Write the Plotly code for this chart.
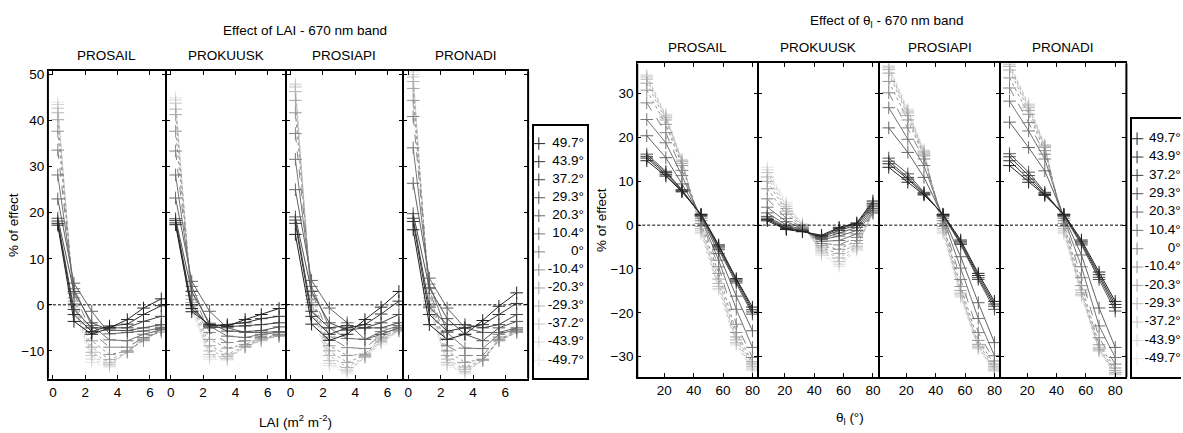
import plotly.graph_objects as go

# ---------------- data ----------------
angles = ["49.7°", "43.9°", "37.2°", "29.3°", "20.3°", "10.4°", "0°",
          "-10.4°", "-20.3°", "-29.3°", "-37.2°", "-43.9°", "-49.7°"]
models = ["PROSAIL", "PROKUUSK", "PROSIAPI", "PRONADI"]

lai = [0.3, 1.3, 2.4, 3.5, 4.6, 5.6, 6.7]
theta_l = [8, 21, 32, 45, 57, 69, 80]

# Effect of LAI (rows follow `angles`)
lai_prosail = [
    [17.3, -3.6, -6.4, -5.0, -3.2, -0.7, 1.3],
    [17.7, -2.1, -5.8, -4.6, -4.2, -2.1, -0.2],
    [18.2, -1.0, -5.0, -5.0, -5.0, -3.6, -2.5],
    [18.8, 2.9, -3.9, -5.5, -5.6, -5.0, -4.3],
    [23.0, 4.7, -1.4, -6.3, -6.0, -5.7, -5.0],
    [28.2, 3.5, -4.5, -7.6, -7.8, -6.4, -5.4],
    [33.6, 2.5, -6.0, -9.2, -9.2, -7.1, -5.9],
    [37.7, 1.5, -7.8, -10.8, -10.0, -7.8, -5.4],
    [40.2, 0.8, -9.2, -11.9, -10.3, -7.6, -5.2],
    [41.7, 0.3, -10.3, -12.6, -10.3, -7.5, -5.0],
    [42.7, 0.0, -11.0, -13.0, -10.2, -7.3, -4.8],
    [43.5, -0.5, -11.8, -13.3, -10.1, -7.2, -4.7],
    [44.0, -1.0, -12.5, -13.5, -10.0, -7.0, -4.6],
]
lai_prokuusk = [
    [17.4, -1.5, -4.3, -4.6, -3.2, -2.1, -0.8],
    [17.8, -0.8, -4.6, -4.3, -3.9, -3.0, -2.5],
    [18.3, 0.0, -5.0, -4.8, -4.6, -4.3, -3.9],
    [18.7, 2.9, -4.0, -5.7, -5.8, -5.6, -4.8],
    [23.2, 5.1, -1.4, -5.0, -6.0, -6.0, -5.8],
    [28.2, 4.0, -4.6, -6.8, -7.1, -6.4, -6.0],
    [33.4, 3.0, -6.0, -8.2, -7.8, -6.8, -6.4],
    [37.7, 2.0, -7.5, -9.4, -8.6, -7.1, -6.6],
    [41.3, 1.2, -8.9, -10.7, -9.0, -7.4, -6.8],
    [42.5, 0.5, -10.0, -11.2, -9.2, -7.6, -6.8],
    [43.8, 0.0, -10.8, -11.6, -9.2, -7.7, -6.6],
    [44.5, -0.5, -11.3, -11.8, -9.1, -7.8, -6.5],
    [45.0, -1.0, -11.8, -12.0, -9.0, -7.8, -6.4],
]
lai_prosiapi = [
    [15.3, -4.2, -7.7, -6.4, -3.2, -0.5, 2.9],
    [17.7, -2.5, -6.4, -5.0, -4.3, -2.0, 0.8],
    [18.4, -1.4, -5.0, -4.5, -5.0, -3.9, -2.1],
    [19.1, 2.9, -3.9, -5.5, -5.0, -5.0, -3.9],
    [25.0, 5.3, -0.7, -3.9, -7.5, -6.4, -5.0],
    [31.6, 4.0, -5.0, -7.3, -7.5, -5.8, -4.5],
    [37.2, 3.0, -7.0, -9.3, -9.5, -6.4, -5.0],
    [41.7, 2.0, -8.9, -11.0, -10.7, -7.0, -5.3],
    [44.4, 1.2, -10.0, -12.5, -11.0, -7.4, -5.5],
    [46.3, 0.5, -11.0, -13.6, -11.2, -7.8, -5.6],
    [47.3, 0.0, -12.1, -14.2, -11.4, -8.0, -5.7],
    [47.8, -0.5, -12.7, -14.6, -11.4, -8.2, -5.7],
    [48.0, -1.0, -13.2, -15.0, -11.4, -8.5, -5.7],
]
lai_pronadi = [
    [16.3, -4.3, -7.5, -6.4, -3.4, -0.3, 2.6],
    [18.1, -2.1, -5.7, -5.0, -4.3, -2.1, 0.3],
    [18.8, -0.5, -4.3, -4.3, -5.0, -4.3, -2.1],
    [19.8, 3.7, -3.0, -6.4, -7.8, -5.0, -3.6],
    [26.4, 5.8, -0.7, -5.0, -6.0, -6.0, -5.0],
    [34.1, 4.5, -6.0, -9.4, -9.5, -6.4, -5.3],
    [40.9, 3.5, -8.9, -11.0, -11.0, -7.0, -5.5],
    [44.4, 2.5, -10.0, -12.5, -11.8, -7.5, -5.8],
    [47.0, 1.5, -11.0, -13.5, -12.0, -7.8, -6.0],
    [48.5, 0.8, -11.8, -14.0, -12.1, -7.8, -6.0],
    [49.5, 0.2, -12.5, -14.5, -12.1, -7.6, -6.0],
    [50.0, -0.3, -12.9, -14.8, -12.0, -7.5, -5.9],
    [50.6, -0.8, -13.2, -15.0, -11.9, -7.4, -5.8],
]

# Effect of theta_l (rows follow `angles`)
th_prosail = [
    [14.7, 11.2, 7.6, 2.5, -4.5, -12.2, -18.7],
    [15.3, 11.6, 7.8, 2.4, -4.8, -12.5, -19.3],
    [15.7, 12.0, 8.0, 2.3, -5.2, -12.8, -19.8],
    [16.2, 12.3, 8.1, 2.2, -5.6, -13.2, -20.3],
    [20.4, 15.4, 9.4, 2.0, -6.5, -16.2, -24.1],
    [24.1, 18.8, 11.3, 1.6, -8.0, -19.2, -27.9],
    [27.9, 21.1, 12.5, 1.0, -9.5, -22.6, -30.2],
    [30.8, 23.0, 13.6, 0.4, -11.0, -24.5, -31.2],
    [32.4, 24.0, 14.1, -0.3, -12.3, -25.5, -31.7],
    [33.3, 24.5, 14.5, -0.8, -13.3, -26.2, -32.2],
    [33.8, 24.9, 14.7, -1.3, -14.0, -26.8, -32.6],
    [34.1, 25.1, 14.9, -1.7, -14.5, -27.1, -33.0],
    [34.3, 25.3, 15.0, -2.0, -14.8, -27.4, -33.2],
]
th_prokuusk = [
    [1.0, -1.0, -1.5, -2.3, -0.5, 0.5, 5.5],
    [1.3, -0.8, -1.4, -2.5, -0.8, 0.3, 5.0],
    [1.6, -0.6, -1.3, -2.7, -1.2, 0.0, 4.6],
    [2.0, -0.4, -1.2, -3.0, -1.8, -0.5, 4.2],
    [2.8, 0.0, -1.0, -3.3, -2.5, -1.2, 3.8],
    [4.1, 0.8, -0.8, -3.7, -3.5, -2.0, 3.4],
    [6.0, 1.5, -0.6, -4.2, -4.5, -2.8, 3.0],
    [8.3, 2.5, -0.4, -4.7, -5.5, -3.5, 2.8],
    [10.0, 3.2, -0.2, -5.2, -6.5, -4.2, 2.7],
    [11.0, 3.8, 0.0, -5.7, -7.5, -4.8, 2.8],
    [12.0, 4.3, 0.1, -6.1, -8.3, -5.2, 3.0],
    [12.6, 4.8, 0.2, -6.5, -8.9, -5.5, 3.3],
    [13.2, 5.3, 0.3, -6.9, -9.4, -5.8, 3.6],
]
th_prosiapi = [
    [13.2, 9.8, 6.9, 2.5, -3.4, -11.0, -17.4],
    [14.0, 10.5, 7.1, 2.4, -3.8, -11.5, -18.0],
    [14.6, 10.9, 7.3, 2.3, -4.1, -12.0, -18.5],
    [15.3, 11.7, 7.5, 2.2, -4.4, -12.4, -19.2],
    [22.2, 16.6, 10.9, 2.0, -7.2, -17.7, -26.8],
    [26.8, 19.6, 13.6, 1.6, -9.8, -21.3, -29.8],
    [30.2, 22.2, 15.1, 1.0, -12.4, -24.5, -31.0],
    [32.8, 24.0, 15.8, 0.4, -14.0, -26.3, -31.7],
    [34.7, 25.0, 16.2, -0.3, -14.9, -27.2, -32.2],
    [35.5, 25.6, 16.5, -0.8, -15.5, -27.6, -32.6],
    [35.9, 26.0, 16.8, -1.3, -15.9, -27.9, -33.0],
    [36.2, 26.3, 17.0, -1.7, -16.2, -28.1, -33.2],
    [36.4, 26.5, 17.2, -2.0, -16.5, -28.3, -33.4],
]
th_pronadi = [
    [13.6, 9.8, 6.8, 2.5, -3.4, -10.7, -17.4],
    [14.7, 10.5, 7.0, 2.4, -3.8, -11.3, -18.1],
    [15.6, 11.3, 7.3, 2.3, -4.1, -11.9, -18.8],
    [16.3, 12.1, 7.5, 2.2, -4.5, -12.4, -19.6],
    [23.5, 17.7, 12.4, 2.0, -6.8, -18.9, -27.9],
    [28.3, 21.5, 15.1, 1.6, -9.5, -23.0, -30.2],
    [31.3, 23.4, 16.2, 1.0, -12.0, -25.7, -31.7],
    [33.6, 25.3, 17.0, 0.4, -13.8, -27.3, -32.6],
    [35.4, 26.2, 17.7, -0.3, -14.8, -28.0, -33.2],
    [36.2, 26.8, 18.0, -0.8, -15.4, -28.3, -33.6],
    [36.6, 27.2, 18.2, -1.3, -15.8, -28.5, -33.9],
    [36.8, 27.5, 18.3, -1.7, -16.0, -28.7, -34.1],
    [37.0, 27.7, 18.4, -2.0, -16.2, -28.8, -34.2],
]

lai_ticks = [0, 2, 4, 6]
theta_ticks = [20, 40, 60, 80]
lai_yticks = [-10, 0, 10, 20, 30, 40, 50]
theta_yticks = [-30, -20, -10, 0, 10, 20, 30]

# ---------------- styling / layout ----------------
W, H = 1183, 433
FONT = "Liberation Sans, Arial, Helvetica, sans-serif"
FS = 13.5

n = len(angles)
greys = [round(34 + (230 - 34) * i / (n - 1)) for i in range(n)]
colors = [f"rgb({g},{g},{g})" for g in greys]
dashes = ["solid"] * 6 + ["dash"] + ["dot"] * 6

left_px = [(48, 166), (166, 286), (286, 404), (404, 529)]
right_px = [(638.3, 759), (759, 880.7), (880.7, 1001.7), (1001.7, 1128.3)]
left_ypx = (68, 378)
right_ypx = (60, 376.7)

def px_x(p):
    return p / W

def px_y(p):
    return 1 - p / H

fig = go.Figure()
layout = dict(
    width=W, height=H, margin=dict(l=0, r=0, t=0, b=0, pad=0),
    paper_bgcolor="white", plot_bgcolor="white", showlegend=False,
    font=dict(family=FONT, size=FS, color="black"),
)

panels = []
for k, (m, d) in enumerate(zip(models, [lai_prosail, lai_prokuusk, lai_prosiapi, lai_pronadi])):
    panels.append(dict(side="L", model=m, data=d, xpx=left_px[k], k=k))
for k, (m, d) in enumerate(zip(models, [th_prosail, th_prokuusk, th_prosiapi, th_pronadi])):
    panels.append(dict(side="R", model=m, data=d, xpx=right_px[k], k=k))

annotations = []
shapes = []
common_axis = dict(showline=True, linecolor="black", mirror="ticks",
                   ticks="inside", ticklen=4, tickwidth=1, tickcolor="black",
                   showgrid=False, zeroline=False,
                   tickfont=dict(family=FONT, size=FS, color="black"))

for idx, p in enumerate(panels):
    a = idx + 1
    xa = "xaxis" if a == 1 else f"xaxis{a}"
    ya = "yaxis" if a == 1 else f"yaxis{a}"
    xr = "x" if a == 1 else f"x{a}"
    yr = "y" if a == 1 else f"y{a}"
    x0, x1 = p["xpx"]
    w = x1 - x0
    if p["side"] == "L":
        xs = lai
        xrange = [-0.31, -0.31 + w / 16.2]
        yrange = [-16.0, 50.7]
        ypx = left_ypx
        xt, yt = lai_ticks, lai_yticks
        title_y = 52
    else:
        xs = theta_l
        xrange = [1.5, 1.5 + w / 1.47]
        yrange = [-34.7, 36.9]
        ypx = right_ypx
        xt, yt = theta_ticks, theta_yticks
        title_y = 44
    layout[xa] = dict(common_axis, linewidth=2, domain=[px_x(x0), px_x(x1)],
                      range=xrange, tickvals=xt, anchor=yr)
    layout[ya] = dict(common_axis, linewidth=1, domain=[px_y(ypx[1]), px_y(ypx[0])],
                      range=yrange, tickvals=yt, anchor=xr,
                      showticklabels=(p["k"] == 0))
    # traces: lightest first so darker lines sit on top
    for i in reversed(range(n)):
        fig.add_trace(go.Scatter(
            x=xs, y=p["data"][i], xaxis=xr, yaxis=yr, mode="lines+markers",
            line=dict(color=colors[i], width=1, dash=dashes[i]),
            marker=dict(symbol="cross-thin", size=9,
                        line=dict(color=colors[i], width=1), color=colors[i]),
            name=angles[i], hoverinfo="skip"))
    shapes.append(dict(type="line", xref=f"{xr} domain", x0=0, x1=1,
                       yref=yr, y0=0, y1=0,
                       line=dict(color="black", width=1, dash="3px,2px")))
    # thicken the outer vertical frame edges
    if p["k"] == 0:
        shapes.append(dict(type="line", xref=f"{xr} domain", x0=0, x1=0,
                           yref=f"{yr} domain", y0=0, y1=1,
                           line=dict(color="black", width=2)))
    if p["k"] == 3:
        shapes.append(dict(type="line", xref=f"{xr} domain", x0=1, x1=1,
                           yref=f"{yr} domain", y0=0, y1=1,
                           line=dict(color="black", width=2)))
    annotations.append(dict(text=p["model"], xref="paper", yref="paper",
                            x=px_x((x0 + x1) / 2), y=px_y(title_y),
                            xanchor="center", yanchor="middle", showarrow=False,
                            font=dict(family=FONT, size=FS)))

# main titles & axis titles
extra = [
    dict(text="Effect of LAI - 670 nm band", x=px_x(306), y=px_y(27)),
    dict(text="Effect of θ<sub>l</sub> - 670 nm band", x=px_x(888), y=px_y(18)),
    dict(text="LAI (m<sup>2</sup> m<sup>-2</sup>)", x=px_x(296), y=px_y(421)),
    dict(text="θ<sub>l</sub> (°)", x=px_x(851), y=px_y(418)),
    dict(text="% of effect", x=px_x(14), y=px_y(223), textangle=-90),
    dict(text="% of effect", x=px_x(603), y=px_y(218), textangle=-90),
]
for an in extra:
    an.update(xref="paper", yref="paper", xanchor="center", yanchor="middle",
              showarrow=False, font=dict(family=FONT, size=FS))
annotations += extra

# ---------------- manual legends (own axes) ----------------
legend_specs = [
    dict(ax=9, xdom=(535, 588), ydom=(122.7, 377.7), yrange=[13.0, -1.0],
         mx=0.089, tx=0.943, right_line=True),
    dict(ax=10, xdom=(1134, W), ydom=(116, 376.7), yrange=[13.01, -1.08],
         mx=0.102, tx=0.995, right_line=False),
]
for L in legend_specs:
    a = L["ax"]
    layout[f"xaxis{a}"] = dict(domain=[px_x(L["xdom"][0]), px_x(L["xdom"][1])],
                               range=[0, 1], showline=True, linecolor="black",
                               linewidth=2, mirror=True, showticklabels=False,
                               ticks="", showgrid=False, zeroline=False,
                               anchor=f"y{a}")
    layout[f"yaxis{a}"] = dict(domain=[px_y(L["ydom"][1]), px_y(L["ydom"][0])],
                               range=L["yrange"], showline=True, linecolor="black",
                               linewidth=2, mirror=L["right_line"],
                               showticklabels=False, ticks="", showgrid=False,
                               zeroline=False, anchor=f"x{a}")
    pos = list(range(n))
    fig.add_trace(go.Scatter(
        x=[L["mx"]] * n, y=pos, xaxis=f"x{a}", yaxis=f"y{a}", mode="markers",
        marker=dict(symbol="cross-thin", size=9, color=colors,
                    line=dict(color=colors, width=1)),
        cliponaxis=False, hoverinfo="skip"))
    fig.add_trace(go.Scatter(
        x=[L["tx"]] * n, y=pos, xaxis=f"x{a}", yaxis=f"y{a}", mode="text",
        text=angles, textposition="middle left",
        textfont=dict(family=FONT, size=FS, color="black"),
        cliponaxis=False, hoverinfo="skip"))

layout["annotations"] = annotations
layout["shapes"] = shapes
fig.update_layout(**layout)
fig.write_html("out.html",
               config={"displayModeBar": False},
               post_script="document.body.style.margin='0';document.body.style.padding='0';document.body.style.overflow='hidden';")
